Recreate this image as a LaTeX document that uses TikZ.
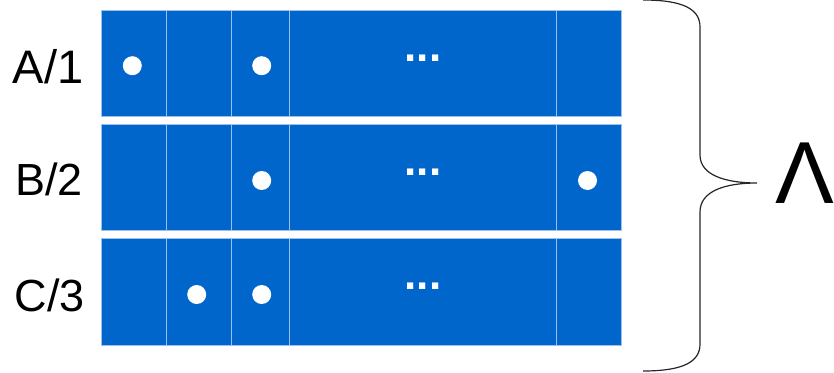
\documentclass[tikz,border=0pt]{standalone}
\usepackage{fontspec}
\setmainfont{Liberation Sans}
\definecolor{cellblue}{HTML}{0066CC}
\definecolor{celledge}{HTML}{9DC0EC}
\begin{document}
\begin{tikzpicture}[x=1pt,y=-1pt,
  cell/.style={rectangle, fill=cellblue, draw=celledge, line width=1pt, inner sep=0pt, outer sep=0pt, minimum height=106.5pt},
  dot/.style={circle, fill=white, inner sep=0pt, minimum size=19pt},
  lbl/.style={font=\fontsize{45}{45}\selectfont, anchor=base, inner sep=0pt},
  ell/.style={font=\fontsize{44}{44}\selectfont\bfseries, text=white, anchor=base, inner sep=0pt},
  bracestyle/.style={line width=1.2pt, draw=black!85}]
\useasboundingbox (0,0) rectangle (834,372);
% columns: 101.3,166,231.3,289,556.7,621
\foreach \r/\top in {1/10,2/124.25,3/238.5}{
  \node[cell, minimum width=64.7pt] (c\r a) at (133.65,\top+53.25) {};
  \node[cell, minimum width=65.3pt] (c\r b) at (198.65,\top+53.25) {};
  \node[cell, minimum width=57.7pt] (c\r c) at (260.15,\top+53.25) {};
  \node[cell, minimum width=267.7pt] (c\r d) at (422.85,\top+53.25) {};
  \node[cell, minimum width=64.3pt] (c\r e) at (588.85,\top+53.25) {};
  \node[ell] (e\r) at (423,\top+51) {...};
}
% dots
\node[dot] (d1a) at (132.3,65.7) {};
\node[dot] (d1c) at (261.7,65.7) {};
\node[dot] (d2c) at (261.7,180.5) {};
\node[dot] (d2e) at (587.5,180.5) {};
\node[dot] (d3b) at (196.7,294.5) {};
\node[dot] (d3c) at (261.7,294.5) {};
% labels
\node[lbl, font=\fontsize{47}{47}\selectfont] (la) at (48,83.3) {A/1};
\node[lbl] (lb) at (49,195.5) {B/2};
\node[lbl] (lc) at (50,311) {C/3};
% brace
\coordinate (bt) at (643,0);
\coordinate (bm) at (757,183);
\coordinate (bb) at (643,371);
\draw[bracestyle] (bt) .. controls (685,0) and (700,10) .. (700,27)
  -- (700,155) .. controls (700,175) and (725,183) .. (bm)
  .. controls (725,183) and (700,191) .. (700,212)
  -- (700,344) .. controls (700,361) and (685,371) .. (bb);
\node[font=\fontsize{88}{88}\selectfont, anchor=base, inner sep=0pt] (lam) at (805,203) {Λ};
\end{tikzpicture}
\end{document}
